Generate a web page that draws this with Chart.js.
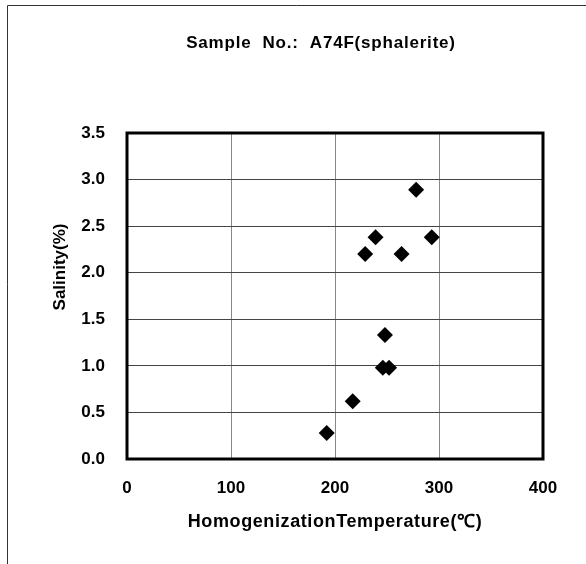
<!DOCTYPE html>
<html>
<head>
<meta charset="utf-8">
<script src="https://cdn.jsdelivr.net/npm/chart.js@4/dist/chart.umd.min.js"></script>
<style>
  html, body { margin: 0; padding: 0; background: #fff; }
  #wrap { width: 586px; height: 564px; }
</style>
</head>
<body>
<div id="wrap"><canvas id="salinity-chart" width="586" height="564"></canvas></div>
<script>
// values
var chartTitle = 'Sample  No.:  A74F(sphalerite)';
var xAxisTitle = 'HomogenizationTemperature(\u2103)';
var yAxisTitle = 'Salinity(%)';

var temperature = [192, 217, 246, 252, 248, 229, 239, 264, 278, 293];
var salinity = [0.28, 0.62, 0.98, 0.98, 1.33, 2.20, 2.38, 2.20, 2.89, 2.38];

var xTickValues = [0, 100, 200, 300, 400];
var yTickValues = [0, 0.5, 1.0, 1.5, 2.0, 2.5, 3.0, 3.5];

var points = temperature.map(function(t, i) {
    return { x: t, y: salinity[i] };
});

// outer frame, plot border and the titles
var framePlugin = {
    id: 'frameAndTitles',
    beforeDraw: function(chart) {
        var ctx = chart.ctx;
        ctx.save();
        ctx.fillStyle = '#fff';
        ctx.fillRect(0, 0, chart.width, chart.height);
        ctx.strokeStyle = '#333';
        ctx.lineWidth = 1;
        ctx.beginPath();
        ctx.moveTo(7.5, chart.height);
        ctx.lineTo(7.5, 5.5);
        ctx.lineTo(chart.width, 5.5);
        ctx.stroke();
        ctx.restore();
    },
    beforeDatasetsDraw: function(chart) {
        var a = chart.chartArea;
        var ctx = chart.ctx;
        ctx.save();
        ctx.strokeStyle = '#000';
        ctx.lineWidth = 3;
        ctx.strokeRect(a.left, a.top, a.right - a.left, a.bottom - a.top);
        ctx.restore();
    },
    afterDraw: function(chart) {
        var a = chart.chartArea;
        var ctx = chart.ctx;
        ctx.save();
        ctx.fillStyle = '#000';
        ctx.textAlign = 'center';
        ctx.textBaseline = 'alphabetic';

        ctx.font = 'bold 17px "Liberation Sans", Arial, sans-serif';
        ctx.letterSpacing = '0.8px';
        ctx.fillText(chartTitle, 321, 48);

        ctx.font = 'bold 18px "Liberation Sans", Arial, sans-serif';
        ctx.letterSpacing = '0.6px';
        ctx.fillText(xAxisTitle, (a.left + a.right) / 2, 527);

        ctx.font = 'bold 17px "Liberation Sans", Arial, sans-serif';
        ctx.letterSpacing = '0px';
        ctx.translate(65, 267);
        ctx.rotate(-Math.PI / 2);
        ctx.fillText(yAxisTitle, 0, 0);
        ctx.restore();
    }
};

var tickFont = { family: '"Liberation Sans", Arial, sans-serif', size: 17, weight: 'bold' };

new Chart(document.getElementById('salinity-chart').getContext('2d'), {
    type: 'scatter',
    data: {
        datasets: [{
            data: points,
            pointStyle: 'rectRot',
            pointRadius: 8,
            pointHoverRadius: 8,
            backgroundColor: '#000',
            borderColor: '#000',
            borderWidth: 0
        }]
    },
    options: {
        responsive: false,
        animation: false,
        events: [],
        layout: { padding: { left: 8, top: 133, right: 43, bottom: 0 } },
        plugins: {
            legend: { display: false },
            tooltip: { enabled: false },
            title: { display: false }
        },
        scales: {
            x: {
                type: 'linear',
                min: 0,
                max: 400,
                afterFit: function(scale) { scale.height = 105; },
                afterBuildTicks: function(scale) {
                    scale.ticks = xTickValues.map(function(v) { return { value: v }; });
                },
                border: { display: false },
                grid: { color: '#888', lineWidth: 1, drawTicks: false },
                ticks: {
                    padding: 19,
                    color: '#000',
                    font: tickFont,
                    maxRotation: 0,
                    callback: function(v) { return String(v); }
                }
            },
            y: {
                type: 'linear',
                min: 0,
                max: 3.5,
                afterFit: function(scale) { scale.width = 119; },
                afterBuildTicks: function(scale) {
                    scale.ticks = yTickValues.map(function(v) { return { value: v }; });
                },
                border: { display: false },
                grid: { color: '#444', lineWidth: 1, drawTicks: false },
                ticks: {
                    padding: 22,
                    color: '#000',
                    font: tickFont,
                    callback: function(v) { return Number(v).toFixed(1); }
                }
            }
        }
    },
    plugins: [framePlugin]
});
</script>
</body>
</html>
